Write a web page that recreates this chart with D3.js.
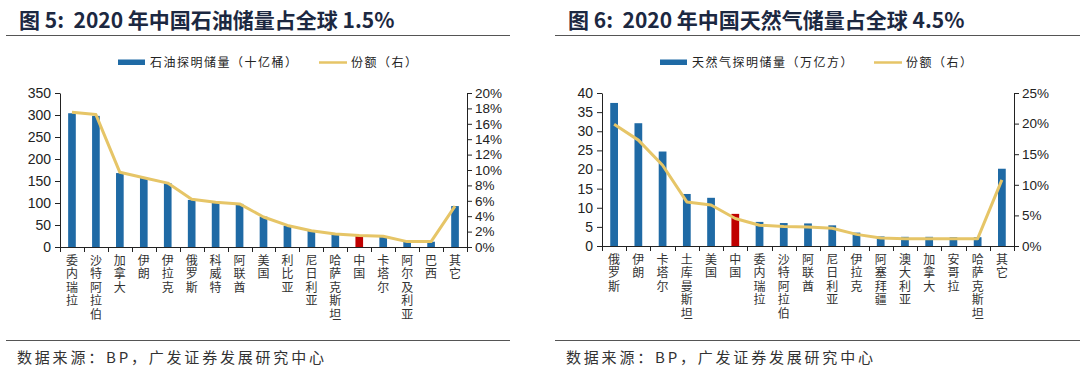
<!DOCTYPE html>
<html>
<head>
<meta charset="utf-8">
<script src="https://cdn.jsdelivr.net/npm/d3@7"></script>
<style>
  body { margin: 0; background: #fff; }
  svg { display: block; font-family: "Liberation Sans", Arial, sans-serif; }
  .cjk { font-family: "Noto Sans CJK SC", sans-serif; }
</style>
</head>
<body>
<div id="app"></div>
<script>
// 图5 石油
const oilCountries = ["委内瑞拉","沙特阿拉伯","加拿大","伊朗","伊拉克","俄罗斯","科威特","阿联酋","美国","利比亚","尼日利亚","哈萨克斯坦","中国","卡塔尔","阿尔及利亚","巴西","其它"];
const oilReserves = [304, 298, 168, 158, 145, 107, 102, 98, 69, 48, 37, 30, 26, 25, 12, 12, 93];
const oilShare = [17.5, 17.2, 9.7, 9.0, 8.3, 6.2, 5.8, 5.6, 3.9, 2.8, 2.1, 1.7, 1.5, 1.4, 0.7, 0.7, 5.3];
const oilLeftTicks = [0, 50, 100, 150, 200, 250, 300, 350];
const oilRightTicks = [0, 2, 4, 6, 8, 10, 12, 14, 16, 18, 20];

// 图6 天然气
const gasCountries = ["俄罗斯","伊朗","卡塔尔","土库曼斯坦","美国","中国","委内瑞拉","沙特阿拉伯","阿联酋","尼日利亚","伊拉克","阿塞拜疆","澳大利亚","加拿大","安哥拉","哈萨克斯坦","其它"];
const gasReserves = [37.4, 32.1, 24.7, 13.6, 12.6, 8.4, 6.3, 6.0, 5.9, 5.4, 3.5, 2.5, 2.4, 2.4, 2.3, 2.3, 20.2];
const gasShare = [19.9, 17.3, 13.2, 7.2, 6.7, 4.5, 3.4, 3.2, 3.1, 2.9, 1.9, 1.3, 1.2, 1.2, 1.2, 1.2, 10.8];
const gasLeftTicks = [0, 5, 10, 15, 20, 25, 30, 35, 40];
const gasRightTicks = [0, 5, 10, 15, 20, 25];

const width = 1080, height = 371;
const blue = "#1f6aa5", red = "#c00000", gold = "#e6c567", ink = "#1c2841";

const svg = d3.select("#app").append("svg")
  .attr("width", width).attr("height", height)
  .attr("viewBox", [0, 0, width, height]);

function panel(o) {
  const g = svg.append("g");

  // 标题
  g.append("text").attr("class", "cjk")
    .attr("x", o.titleX).attr("y", 28)
    .attr("fill", ink).attr("font-size", 21).attr("font-weight", "bold")
    .style("white-space", "pre")
    .text(o.title);
  g.append("line")
    .attr("x1", o.ruleX1).attr("x2", o.ruleX2).attr("y1", 35.5).attr("y2", 35.5)
    .attr("stroke", "#555").attr("stroke-width", 1);

  // 坐标
  const x = d3.scaleBand().domain(o.cats).range([o.left, o.right]).paddingInner(0.68).paddingOuter(0.34);
  const step = (o.right - o.left) / o.cats.length;
  const y = d3.scaleLinear().domain([0, o.leftTicks[o.leftTicks.length - 1]]).range([o.bottom, o.top]);
  const y2 = d3.scaleLinear().domain([0, o.rightTicks[o.rightTicks.length - 1]]).range([o.bottom, o.top]);

  // 柱
  g.append("g").selectAll("rect")
    .data(o.cats)
    .join("rect")
      .attr("x", d => x(d))
      .attr("width", x.bandwidth())
      .attr("y", (d, i) => y(o.values[i]))
      .attr("height", (d, i) => o.bottom - y(o.values[i]))
      .attr("fill", d => d === "中国" ? red : blue);

  // 份额线
  const line = d3.line()
    .x((d, i) => x(o.cats[i]) + x.bandwidth() / 2)
    .y(d => y2(d));
  g.append("path").datum(o.share)
    .attr("d", line).attr("fill", "none")
    .attr("stroke", gold).attr("stroke-width", 3).attr("stroke-linejoin", "round");

  // 左轴
  g.append("g")
    .attr("transform", `translate(${o.left},0)`)
    .call(d3.axisLeft(y).tickValues(o.leftTicks).tickSize(5).tickSizeOuter(0).tickPadding(4))
    .call(a => a.selectAll("text").attr("font-size", 14).attr("fill", "#222"))
    .call(a => a.selectAll("line,path").attr("stroke", "#222"));

  // 右轴
  g.append("g")
    .attr("transform", `translate(${o.right},0)`)
    .call(d3.axisRight(y2).tickValues(o.rightTicks).tickFormat(d => d + "%").tickSize(5).tickSizeOuter(0).tickPadding(3))
    .call(a => a.selectAll("text").attr("font-size", 13.5).attr("fill", "#222"))
    .call(a => a.selectAll("line,path").attr("stroke", "#222"));

  // X 轴
  const xa = g.append("g");
  xa.append("line")
    .attr("x1", o.left).attr("x2", o.right).attr("y1", o.bottom + 0.5).attr("y2", o.bottom + 0.5)
    .attr("stroke", "#222");
  xa.selectAll("line.tick")
    .data(d3.range(o.cats.length + 1))
    .join("line").attr("class", "tick")
      .attr("x1", i => Math.round(o.left + i * step) + 0.5)
      .attr("x2", i => Math.round(o.left + i * step) + 0.5)
      .attr("y1", o.bottom).attr("y2", o.bottom + 5)
      .attr("stroke", "#222");
  // 竖排标签
  xa.selectAll("text")
    .data(o.cats)
    .join("text").attr("class", "cjk")
      .attr("x", d => x(d) + x.bandwidth() / 2)
      .attr("y", o.bottom + 7)
      .attr("font-size", 12)
      .attr("fill", "#333")
      .style("writing-mode", "vertical-rl")
      .style("text-orientation", "upright")
      .style("letter-spacing", "1.5px")
      .text(d => d);

  // 图例
  const lg = g.append("g").attr("class", "cjk").attr("font-size", 12).attr("fill", "#222");
  lg.append("rect").attr("x", o.legX).attr("y", 59.5).attr("width", 27).attr("height", 5.5).attr("fill", blue);
  lg.append("text").attr("x", o.legX + 32).attr("y", 66.5).style("letter-spacing", "1.5px").text(o.legend);
  lg.append("line").attr("x1", o.legX2).attr("x2", o.legX2 + 28).attr("y1", 62.5).attr("y2", 62.5)
    .attr("stroke", gold).attr("stroke-width", 2.5);
  lg.append("text").attr("x", o.legX2 + 32).attr("y", 66.5).style("letter-spacing", "1.5px").text("份额（右）");

  // 来源
  g.append("line")
    .attr("x1", o.ruleX1).attr("x2", o.ruleX2).attr("y1", 340.5).attr("y2", 340.5)
    .attr("stroke", "#555").attr("stroke-width", 1);
  g.append("text").attr("class", "cjk")
    .attr("x", o.titleX - 2).attr("y", 363)
    .attr("font-size", 15).attr("fill", "#333")
    .style("letter-spacing", "2.8px")
    .text("数据来源：BP，广发证券发展研究中心");
}

panel({
  title: "图 5:  2020 年中国石油储量占全球 1.5%",
  legend: "石油探明储量（十亿桶）",
  cats: oilCountries, values: oilReserves, share: oilShare,
  leftTicks: oilLeftTicks, rightTicks: oilRightTicks,
  left: 60, right: 467, top: 93, bottom: 247,
  titleX: 19, ruleX1: 6, ruleX2: 510,
  legX: 118, legX2: 319
});

panel({
  title: "图 6:  2020 年中国天然气储量占全球 4.5%",
  legend: "天然气探明储量（万亿方）",
  cats: gasCountries, values: gasReserves, share: gasShare,
  leftTicks: gasLeftTicks, rightTicks: gasRightTicks,
  left: 602, right: 1014, top: 93, bottom: 246,
  titleX: 568, ruleX1: 555, ruleX2: 1080,
  legX: 660, legX2: 874
});
</script>
</body>
</html>
